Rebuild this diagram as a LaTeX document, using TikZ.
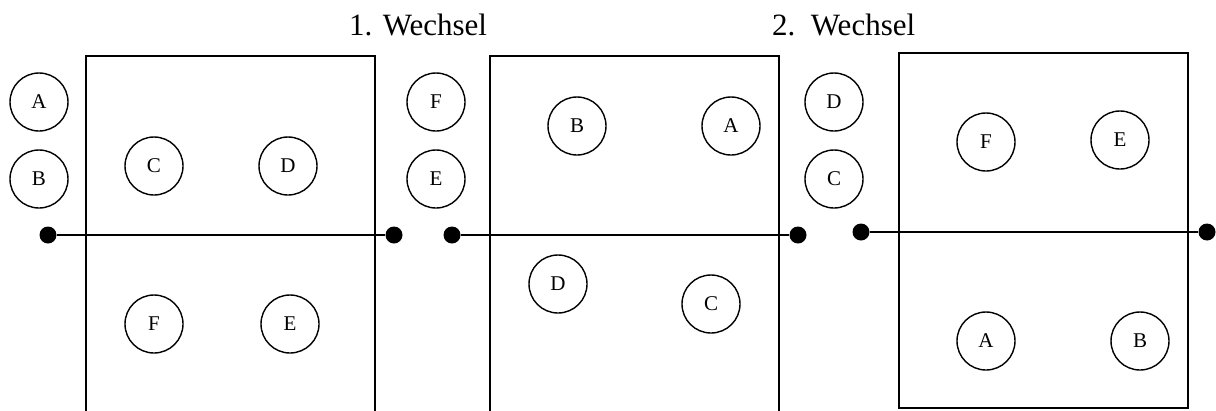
\documentclass[tikz,border=0pt]{standalone}
\usepackage{fontspec}
\setmainfont{Liberation Serif}
\begin{document}
\begin{tikzpicture}[x=1pt,y=-1pt,
  player/.style={draw,circle,line width=1.4pt,minimum size=58pt,inner sep=0pt,font=\fontsize{21}{21}\selectfont},
  pole/.style={circle,fill=black,minimum size=17pt,inner sep=0pt},
  court/.style={line width=1.4pt},
  net/.style={line width=1.6pt},
  title/.style={anchor=base west,inner sep=0pt,font=\fontsize{31}{31}\selectfont}]
\useasboundingbox (0,0) rectangle (1216,410);
% titles
\node[title] (t1) at (349,35) {1. Wechsel};
\node[title] (t2) at (772,35) {2.\ \ Wechsel};
% panel 1
\draw[court] (86,414) -- (86,56) -- (375,56) -- (375,414);
\node[pole] (p1l) at (48,235) {};
\node[pole] (p1r) at (394,235) {};
\draw[net] (p1l) -- (p1r);
\node[player] (a1) at (39,102) {A};
\node[player] (b1) at (39,179) {B};
\node[player] (c1) at (154,166) {C};
\node[player] (d1) at (288,166) {D};
\node[player] (f1) at (154,324) {F};
\node[player] (e1) at (290,324) {E};
% panel 2
\draw[court] (490,414) -- (490,56) -- (779,56) -- (779,414);
\node[pole] (p2l) at (452,235) {};
\node[pole] (p2r) at (798,235) {};
\draw[net] (p2l) -- (p2r);
\node[player] (f2) at (436,102) {F};
\node[player] (e2) at (436,179) {E};
\node[player] (b2) at (577,126) {B};
\node[player] (a2) at (731,126) {A};
\node[player] (d2) at (558,284) {D};
\node[player] (c2) at (711,304) {C};
% panel 3
\draw[court] (899,53) rectangle (1188,408);
\node[pole] (p3l) at (861,232) {};
\node[pole] (p3r) at (1207,232) {};
\draw[net] (p3l) -- (p3r);
\node[player] (d3) at (834,102) {D};
\node[player] (c3) at (834,179) {C};
\node[player] (f3) at (986,142) {F};
\node[player] (e3) at (1120,140) {E};
\node[player] (a3) at (986,341) {A};
\node[player] (b3) at (1140,341) {B};
\end{tikzpicture}
\end{document}
